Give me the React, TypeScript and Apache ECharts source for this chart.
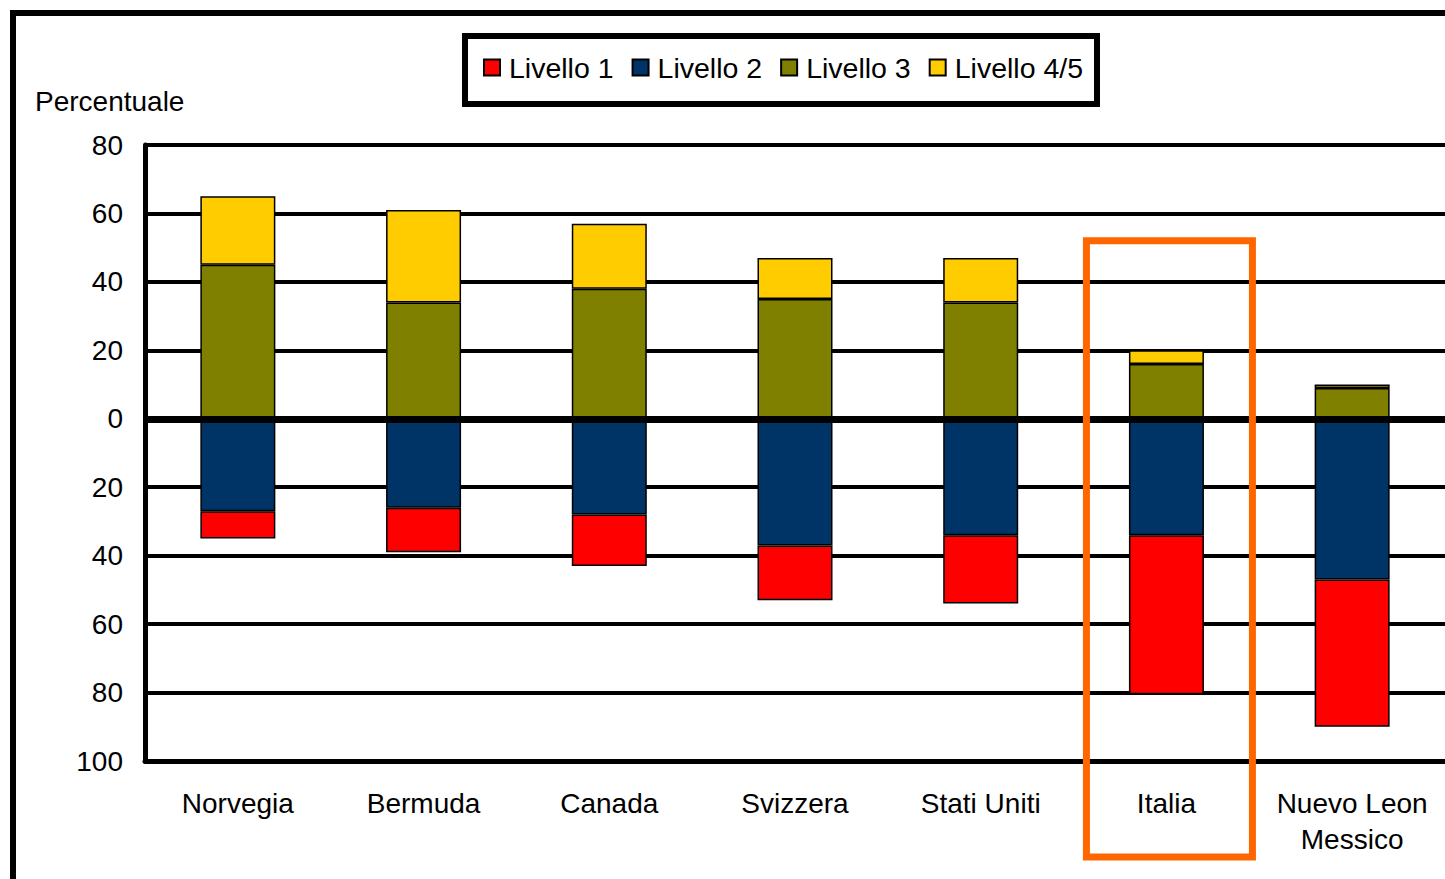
import React, { useEffect, useRef } from "react";
import * as echarts from "echarts";

// Countries on the category axis
const countries = ["Norvegia", "Bermuda", "Canada", "Svizzera", "Stati Uniti", "Italia", "Nuevo Leon\nMessico"];

// Percentages per proficiency level (levels 1 and 2 are drawn below zero)
const livello1 = [8, 13, 15, 16, 20, 46.5, 43];
const livello2 = [27, 26, 28, 37, 34, 34, 47];
const livello3 = [45, 34, 38, 35, 34, 16, 9];
const livello45 = [20, 27, 19, 12, 13, 4, 1];

// Value axis ticks
const yMin = -100;
const yMax = 80;
const yStep = 20;

const highlighted = "Italia";
const FONT = "'Liberation Sans', Arial, sans-serif";

export default function App() {
  const ref = useRef<HTMLDivElement>(null);

  useEffect(() => {
    if (!ref.current) return;
    const chart = echarts.init(ref.current, null, { renderer: "svg" });

    const barBase = {
      type: "bar" as const,
      stack: "livelli",
      barWidth: 75,
      itemStyle: { borderColor: "#000", borderWidth: 1.5 },
    };

    chart.setOption({
      animation: false,
      backgroundColor: "#fff",
      textStyle: { fontFamily: FONT },
      grid: { left: 145, top: 145, right: 0, bottom: 118, containLabel: false },
      legend: {
        data: ["Livello 1", "Livello 2", "Livello 3", "Livello 4/5"],
        left: 483,
        top: 53,
        padding: 0,
        itemWidth: 16,
        itemHeight: 16,
        itemGap: 18,
        icon: "rect",
        textStyle: {
          fontFamily: FONT,
          fontSize: 28.5,
          lineHeight: 28,
          color: "#000",
          padding: [0, 0, 0, 4],
        },
      },
      xAxis: {
        type: "category",
        data: countries,
        axisLine: { show: true, onZero: false, lineStyle: { color: "#000", width: 5 } },
        axisTick: { show: false },
        axisLabel: {
          fontFamily: FONT,
          fontSize: 28,
          lineHeight: 36,
          color: "#000",
          margin: 24,
          interval: 0,
        },
      },
      yAxis: {
        type: "value",
        min: yMin,
        max: yMax,
        interval: yStep,
        axisLine: { show: true, lineStyle: { color: "#000", width: 5 } },
        axisTick: { show: false },
        splitLine: { show: true, lineStyle: { color: "#000", width: 4 } },
        axisLabel: {
          fontFamily: FONT,
          fontSize: 28,
          color: "#000",
          margin: 22,
          formatter: (v: number) => String(Math.abs(v)),
        },
      },
      series: [
        { ...barBase, name: "Livello 2", data: livello2.map((v) => -v), itemStyle: { ...barBase.itemStyle, color: "#003366" } },
        { ...barBase, name: "Livello 1", data: livello1.map((v) => -v), itemStyle: { ...barBase.itemStyle, color: "#FF0000" } },
        { ...barBase, name: "Livello 3", data: livello3, itemStyle: { ...barBase.itemStyle, color: "#808000" } },
        {
          ...barBase,
          name: "Livello 4/5",
          data: livello45,
          itemStyle: { ...barBase.itemStyle, color: "#FFCC00" },
          markLine: {
            silent: true,
            symbol: "none",
            label: { show: false },
            lineStyle: { color: "#000", width: 7, type: "solid" },
            data: [{ yAxis: 0 }],
          },
        },
      ],
      graphic: [
        {
          id: "frame",
          type: "rect",
          silent: true,
          shape: { x: 13, y: 13, width: 2000, height: 2000 },
          style: { fill: "none", stroke: "#000", lineWidth: 6 },
        },
        {
          id: "legendBox",
          type: "rect",
          silent: true,
          shape: { x: 465, y: 36, width: 632, height: 68 },
          style: { fill: "none", stroke: "#000", lineWidth: 6 },
        },
        {
          id: "yName",
          type: "text",
          silent: true,
          x: 35,
          y: 101,
          style: {
            text: "Percentuale",
            font: `28px ${FONT}`,
            fill: "#000",
            verticalAlign: "middle",
          },
        },
      ],
    });

    // Highlight box around the selected country, placed from the axis scales
    const cx = chart.convertToPixel({ xAxisIndex: 0 }, highlighted) as number;
    const yTop = chart.convertToPixel({ yAxisIndex: 0 }, 52) as number;
    chart.setOption({
      graphic: [
        {
          id: "highlight",
          type: "rect",
          silent: true,
          z: 10,
          shape: { x: cx - 80, y: yTop, width: 166, height: 857 - yTop },
          style: { fill: "none", stroke: "#FF6600", lineWidth: 7 },
        },
      ],
    });

    return () => chart.dispose();
  }, []);

  return (
    <div
      ref={ref}
      style={{ position: "absolute", left: 0, top: 0, width: 1445, height: 879 }}
    />
  );
}
